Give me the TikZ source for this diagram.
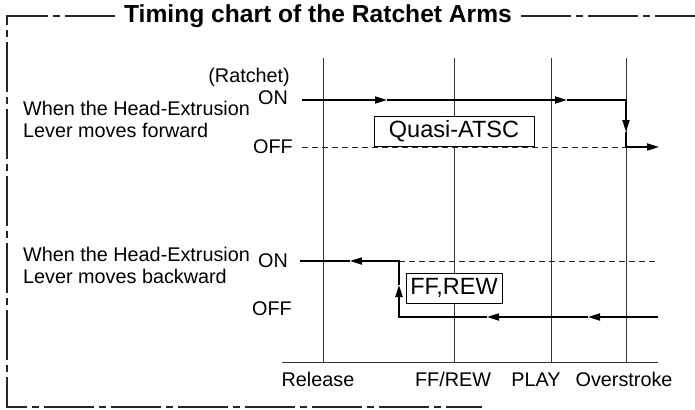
\documentclass[tikz,border=0pt]{standalone}
\usepackage{fontspec}
\setmainfont{Liberation Sans}
\usetikzlibrary{arrows.meta}
\begin{document}
\begin{tikzpicture}[x=1pt,y=-1pt, line cap=butt, line join=miter,
  frameline/.style={draw=black!85,line width=1.3pt,dash pattern=on 50pt off 5pt on 7pt off 5pt},
  gridline/.style={draw=black!80,line width=.9pt},
  offline/.style={draw=black!85,line width=.9pt,dash pattern=on 6pt off 4pt},
  sig/.style={draw=black,line width=1.9pt},
  tip/.style={-{Triangle[length=12pt,width=7pt]}},
  lbl/.style={font=\fontsize{19.8}{22}\selectfont,inner sep=0pt},
  modebox/.style={draw=black,line width=1pt,fill=white,inner sep=2pt,font=\fontsize{23.5}{26}\selectfont}]
\useasboundingbox (0,0) rectangle (695,409);
% frame and title
\node[font=\fontsize{24.6}{27}\selectfont\bfseries,inner sep=0pt] (title) at (318,16) {Timing chart of the Ratchet Arms};
\draw[frameline] (115,16) -- (7,16) -- (7,407) -- (482,407);
\draw[frameline] (521,16) -- (695,16);
% time marks and axis
\foreach \x/\name in {323/rel,454/ff,551/play,626/over} {
  \draw[gridline] (\x,58) -- (\x,362);
  \coordinate (\name) at (\x,362);
}
\draw[gridline] (282,362) -- (658,362);
\node[lbl,anchor=base] (trel) at (318,386) {Release};
\node[lbl,anchor=base] (tff) at (453,386) {FF/REW};
\node[lbl,anchor=base] (tplay) at (536,386) {PLAY};
\node[lbl,anchor=base] (tover) at (624,386) {Overstroke};
% forward: ratchet ON -> OFF at overstroke
\node[lbl,anchor=base west] (fw1) at (23,116) {When the Head-Extrusion};
\node[lbl,anchor=base west] (fw2) at (23,137) {Lever moves forward};
\node[lbl,anchor=east] (ratchet) at (290,77) {(Ratchet)};
\node[lbl,anchor=east] (fon) at (288,98) {ON};
\node[lbl,anchor=east] (foff) at (293,147) {OFF};
\draw[offline] (302,147) -- (626,147);
\node[modebox,minimum width=160pt,minimum height=30pt] (quasi) at (454,131) {Quasi-ATSC};
\draw[sig,tip] (302,100) -- (387,100);
\draw[sig,tip] (387,100) -- (567,100);
\draw[sig,tip] (567,100) -- (626,100) -- (626,132);
\draw[sig,tip] (626,132) -- (626,147) -- (659,147);
% backward: ratchet OFF -> ON at FF/REW
\node[lbl,anchor=base west] (bw1) at (23,261) {When the Head-Extrusion};
\node[lbl,anchor=base west] (bw2) at (23,283) {Lever moves backward};
\node[lbl,anchor=east] (bon) at (288,261) {ON};
\node[lbl,anchor=east] (boff) at (292,309) {OFF};
\draw[offline] (399,261) -- (655,261);
\node[modebox,minimum width=96pt,minimum height=30pt] (ffrew) at (454,288) {FF,REW};
\draw[sig,tip] (658,317) -- (588,317);
\draw[sig,tip] (588,317) -- (487,317);
\draw[sig,tip] (487,317) -- (399,317) -- (399,285);
\draw[sig,tip] (399,285) -- (399,261) -- (350,261);
\draw[sig] (350,261) -- (300,261);
\end{tikzpicture}
\end{document}
